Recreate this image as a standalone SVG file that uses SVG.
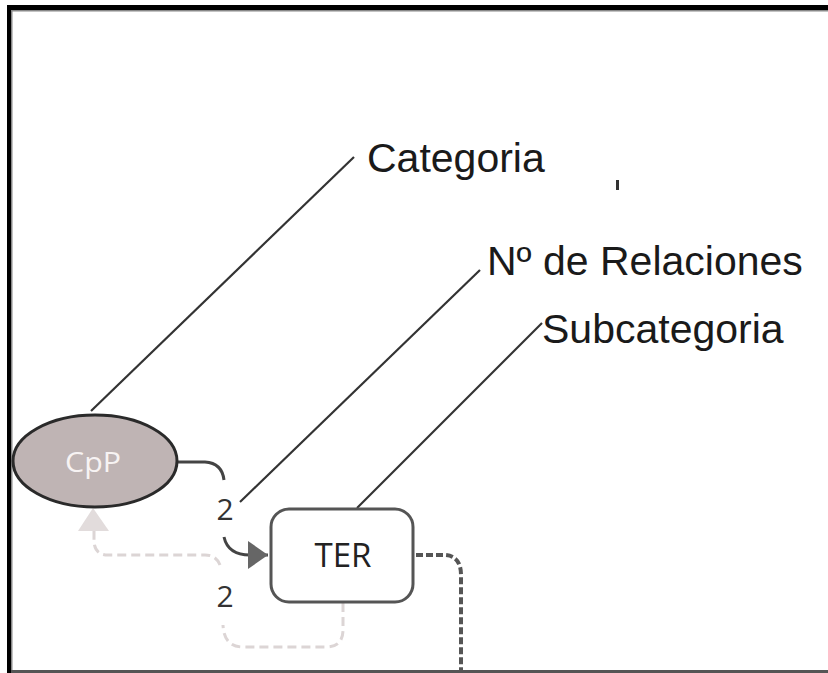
<svg xmlns="http://www.w3.org/2000/svg" width="828" height="673" viewBox="0 0 828 673">
<style>
.lbl{font-family:"Liberation Sans",Arial,sans-serif;font-size:41px;fill:#1a1a1a}
.lead{stroke:#333;stroke-width:2.2;fill:none}
.num{font-family:"Open Sans","DejaVu Sans",sans-serif;font-size:30px;fill:#333;text-anchor:middle}
.solid{stroke:#444;stroke-width:3;fill:none}
.light{stroke:#dcd5d5;stroke-width:3;fill:none;stroke-dasharray:9 5}
.dark{stroke:#555;stroke-width:4;fill:none;stroke-dasharray:7 3}
</style>
<defs>
<marker id="arrDark" viewBox="0 0 20 28" refX="20" refY="14" markerWidth="20" markerHeight="28" markerUnits="userSpaceOnUse" orient="auto">
<path d="M0,0 L20,14 L0,28 Z" fill="#666"/>
</marker>
</defs>
<rect width="828" height="673" fill="#fff"/>
<!-- frame -->
<rect x="7" y="5" width="821" height="5" fill="#000"/>
<rect x="7" y="5" width="4" height="668" fill="#000"/>
<rect x="11" y="10" width="817" height="1.5" fill="#888"/>
<rect x="11" y="10" width="1.5" height="663" fill="#888"/>
<rect x="11" y="670" width="817" height="3" fill="#555"/>
<rect x="616" y="180" width="3" height="10" fill="#333"/>
<g id="connectors">
<line class="lead" x1="91" y1="411" x2="354" y2="157"/>
<line class="lead" x1="240" y1="502" x2="480" y2="270"/>
<line class="lead" x1="357" y1="508" x2="542" y2="323"/>
<path class="solid" d="M177,462 L205,462 Q222,463 224,480"/>
<path class="solid" d="M224,537 Q228,555 250,555 L268,555" marker-end="url(#arrDark)"/>
<path class="light" d="M343,603 L343,630 Q343,647 326,647 L243,647 Q224,647 223,625"/>
<path class="light" d="M220,565 Q216,555 205,555 L108,555 Q94,555 94,540 L94,530"/>
<path d="M93,508 L109,531 L78,531 Z" fill="#e2dcdc"/>
<path class="dark" d="M416,555 L445,555 Q461,556 461,575 L461,673"/>
</g>
<g id="CpP">
<ellipse cx="95" cy="461" rx="82" ry="46" fill="#bfb4b4" stroke="#2a2a2a" stroke-width="3"/>
<text x="93" y="472" font-family="'Open Sans','DejaVu Sans',sans-serif" font-size="28" fill="#f7f3f3" text-anchor="middle" textLength="56" lengthAdjust="spacingAndGlyphs">CpP</text>
</g>
<g id="TER">
<rect x="271" y="509" width="142" height="93" rx="18" fill="#fff" stroke="#555" stroke-width="3"/>
<text x="343" y="567" font-family="'Open Sans','DejaVu Sans',sans-serif" font-size="32" fill="#222" text-anchor="middle" textLength="57" lengthAdjust="spacingAndGlyphs">TER</text>
</g>
<g id="label-2a"><text class="num" x="225" y="520">2</text></g>
<g id="label-2b"><text class="num" x="225" y="607">2</text></g>
<g id="Categoria"><text class="lbl" x="367" y="172">Categoria</text></g>
<g id="NRelaciones"><text class="lbl" x="487" y="275">Nº de Relaciones</text></g>
<g id="Subcategoria"><text class="lbl" x="542" y="343">Subcategoria</text></g>
</svg>
